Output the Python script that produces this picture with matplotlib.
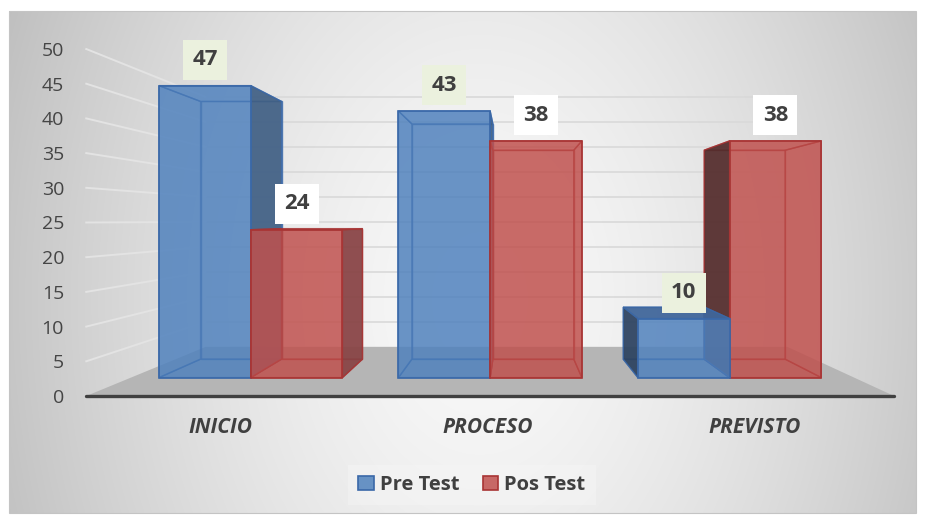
#!/usr/bin/env python3

import numpy as np
import matplotlib
matplotlib.use("Agg")
import matplotlib.pyplot as plt
from matplotlib.colors import to_rgba
from matplotlib.patches import Polygon, Patch, Rectangle

categories = ["INICIO", "PROCESO", "PREVISTO"]
series_labels = ["Pre Test", "Pos Test"]
pre_test = [47.0, 42.9, 9.5]
pos_test = [23.8, 38.1, 38.1]
y_ticks = [0, 5, 10, 15, 20, 25, 30, 35, 40, 45, 50]

visualize_config = {
    "figure_size": (9.26, 5.16),
    "dpi": 100,
    "size_px": (926, 516),
    # where data (0, 0) of the front plane lands, and pixels per data unit
    "origin_px": (220.0, 396.0),
    "px_per_unit": (267.5, 6.94),
    # perspective: vanishing point (data units) and scale of each depth plane
    "vanish": (1.095, 25.3),
    "depth_front": 0.895,
    "depth_back": 0.79,
    "depth_wall": 0.72,
    "floor_span": (-0.5, 2.52),
    "bar_width": 0.383,
    "chart_area_px": (9, 11, 916, 513),
    "text_color": "#404040",
    "grid_color": "#d9d9d9",
    "side_grid_color": "#e3e3e3",
    "floor_color": "#b5b5b5",
    "font": ["Open Sans", "DejaVu Sans"],
}

series_style = [
    {"face": "#4f81bd", "edge": "#3a68a8", "right": "#415e80", "left": "#2b3e58",
     "top": "#3e6397", "label_bg": "#ebf1de"},
    {"face": "#c0504d", "edge": "#a83434", "right": "#834345", "left": "#4a2b2b",
     "top": "#9c4442", "label_bg": "#ffffff"},
]

cfg = visualize_config


def project(x, y, s):
    vx, vy = cfg["vanish"]
    return (vx + s * (x - vx), vy + s * (y - vy))


def quad(points):
    return [project(*p) for p in points]


def chart_background():
    w, h = cfg["size_px"]
    xx, yy = np.meshgrid(np.arange(w) + 0.5, np.arange(h) + 0.5)
    t = np.sqrt(((xx - 480) / 460) ** 2 + ((yy - 300) / 650) ** 2)
    shade = np.clip(0.975 - 0.19 * t ** 1.5, 0, 1)
    x0, y0, x1, y1 = cfg["chart_area_px"]
    inside = (xx >= x0) & (xx <= x1) & (yy >= y0) & (yy <= y1)
    shade = np.where(inside, shade, 1.0)
    return np.dstack([shade, shade, shade])


def draw_box(ax, x0, x1, h, style, z):
    sf, sb = cfg["depth_front"], cfg["depth_back"]
    vx, vy = cfg["vanish"]
    back = quad([(x0, 0, sb), (x1, 0, sb), (x1, h, sb), (x0, h, sb)])
    bottom = quad([(x0, 0, sb), (x1, 0, sb), (x1, 0, sf), (x0, 0, sf)])
    left = quad([(x0, 0, sb), (x0, 0, sf), (x0, h, sf), (x0, h, sb)])
    right = quad([(x1, 0, sb), (x1, 0, sf), (x1, h, sf), (x1, h, sb)])
    top = quad([(x0, h, sb), (x1, h, sb), (x1, h, sf), (x0, h, sf)])
    front = quad([(x0, 0, sf), (x1, 0, sf), (x1, h, sf), (x0, h, sf)])

    hidden = [back, bottom]
    shown = []
    if x0 > vx:
        shown.append((left, style["left"]))
    else:
        hidden.append(left)
    if x1 < vx:
        shown.append((right, style["right"]))
    else:
        hidden.append(right)
    if h < vy:
        shown.append((top, style["top"]))
    else:
        hidden.append(top)

    edge = to_rgba(style["edge"], 0.8)
    for pts in hidden:
        ax.add_patch(Polygon(pts, closed=True, facecolor=to_rgba(style["face"], 0.6),
                             edgecolor=edge, linewidth=1.0, zorder=z))
    for pts, col in shown:
        ax.add_patch(Polygon(pts, closed=True, facecolor=to_rgba(col, 0.85),
                             edgecolor=edge, linewidth=1.0, zorder=z))
    ax.add_patch(Polygon(front, closed=True, facecolor=to_rgba(style["face"], 0.6),
                         edgecolor=style["edge"], linewidth=1.2, zorder=z))


plt.rcParams["font.family"] = cfg["font"]

fig = plt.figure(figsize=cfg["figure_size"], dpi=cfg["dpi"])
w_px, h_px = cfg["size_px"]

bg_ax = fig.add_axes([0, 0, 1, 1], zorder=-1)
bg_ax.imshow(chart_background(), extent=(0, w_px, h_px, 0), aspect="auto", interpolation="bilinear")
bg_ax.set_xlim(0, w_px)
bg_ax.set_ylim(h_px, 0)
bg_ax.axis("off")
x0a, y0a, x1a, y1a = cfg["chart_area_px"]
bg_ax.add_patch(Rectangle((x0a, y0a), x1a - x0a, y1a - y0a, fill=False,
                          edgecolor="#c4c4c4", linewidth=0.8))

ax = fig.add_axes([0, 0, 1, 1])
ax.patch.set_alpha(0)
ox, oy = cfg["origin_px"]
kx, ky = cfg["px_per_unit"]
ax.set_xlim(-ox / kx, (w_px - ox) / kx)
ax.set_ylim((oy - h_px) / ky, oy / ky)

# walls: gridlines on the back wall and on the left wall
fl0, fl1 = cfg["floor_span"]
sw = cfg["depth_wall"]
for v in y_ticks[1:]:
    a, b = project(fl0, v, sw), project(fl1, v, sw)
    ax.plot([a[0], b[0]], [a[1], b[1]], color=cfg["grid_color"], lw=1.2, zorder=0.5)
    c = project(fl0, v, 1.0)
    ax.plot([c[0], a[0]], [c[1], a[1]], color=cfg["side_grid_color"], lw=1.4, zorder=0.5)

# floor
floor = quad([(fl0, 0, 1.0), (fl1, 0, 1.0), (fl1, 0, sw), (fl0, 0, sw)])
ax.add_patch(Polygon(floor, closed=True, facecolor=cfg["floor_color"], edgecolor="none", zorder=1))

# bars, painted from the outside in so nearer faces land on top
bw = cfg["bar_width"]
bars = []
for i, cat in enumerate(categories):
    for k, values in enumerate([pre_test, pos_test]):
        x0 = i - bw if k == 0 else i
        bars.append((x0, x0 + bw, values[i], k))
bars.sort(key=lambda b: -abs((b[0] + b[1]) / 2 - cfg["vanish"][0]))
for rank, (x0, x1, h, k) in enumerate(bars):
    draw_box(ax, x0, x1, h, series_style[k], 3 + rank)

# data labels
for x0, x1, h, k in bars:
    anchor = project((x0 + x1) / 2, h, cfg["depth_front"])
    ax.annotate(f"{h:.0f}", xy=anchor, xytext=(0, 11), textcoords="offset points",
                ha="center", va="bottom", fontsize=16, fontweight="bold",
                color=cfg["text_color"], zorder=20,
                bbox=dict(boxstyle="square,pad=0.42", facecolor=series_style[k]["label_bg"],
                          edgecolor="none"))

# axes
for side in ["top", "right"]:
    ax.spines[side].set_visible(False)
ax.spines["left"].set_position(("data", fl0))
ax.spines["left"].set_visible(False)
ax.spines["bottom"].set_position(("data", 0))
ax.spines["bottom"].set_bounds(fl0, fl1)
ax.spines["bottom"].set_color("#404040")
ax.spines["bottom"].set_linewidth(2.4)
ax.spines["bottom"].set_capstyle("round")

ax.set_yticks(y_ticks)
ax.tick_params(axis="y", length=0, pad=16, labelsize=14, labelcolor="#454545")
ax.set_xticks(range(len(categories)))
ax.set_xticklabels(categories, fontsize=15, fontweight="bold", fontstyle="italic",
                   color=cfg["text_color"])
ax.tick_params(axis="x", length=0, pad=15)

handles = [Patch(facecolor=to_rgba(s["face"], 0.85), edgecolor=s["edge"], linewidth=1.2)
           for s in series_style]
ax.legend(handles, series_labels, loc="center", bbox_to_anchor=(472 / w_px, 1 - 485 / h_px),
          bbox_transform=fig.transFigure, ncol=2, frameon=True, facecolor="#f6f6f6",
          edgecolor="none", framealpha=0.45, fancybox=False,
          prop={"size": 14.5, "weight": "bold"}, labelcolor=cfg["text_color"],
          handlelength=0.75, handleheight=0.75, handletextpad=0.3, columnspacing=1.2,
          borderpad=0.5)

fig.savefig("out.png", dpi=cfg["dpi"])
